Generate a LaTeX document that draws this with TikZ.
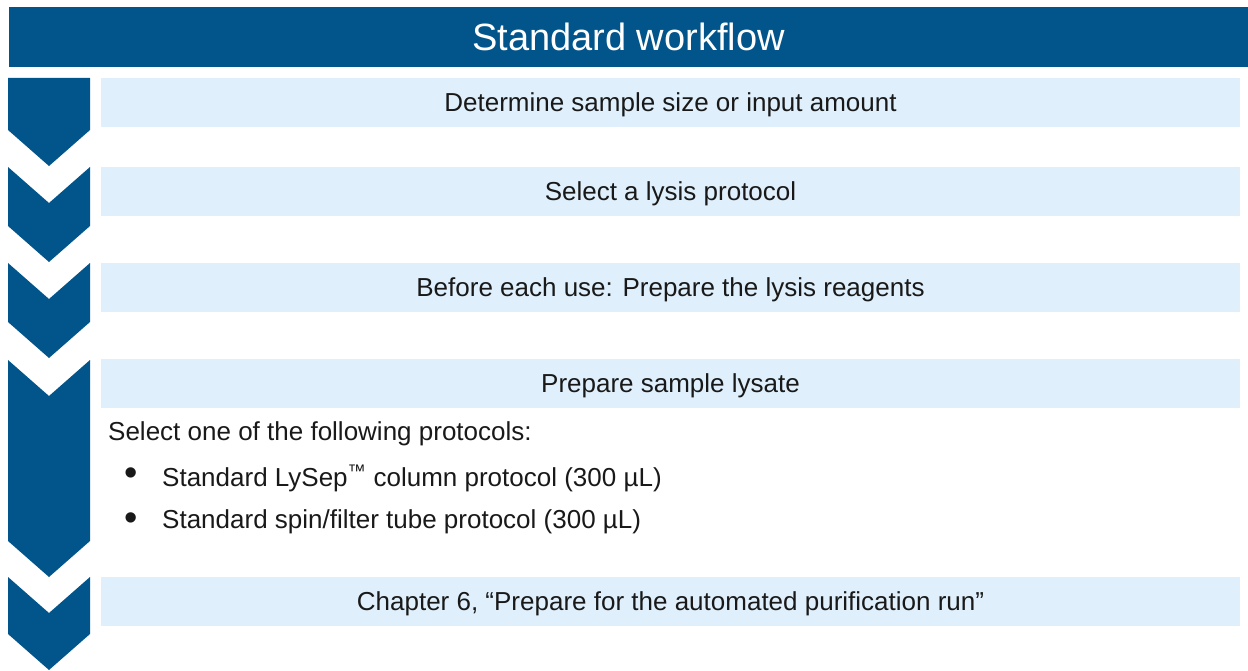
\documentclass[tikz,border=0pt]{standalone}
\usepackage{fontspec}
\setmainfont{Liberation Sans}
\usepackage{tikz}

\definecolor{wfblue}{RGB}{2,85,139}
\definecolor{wflight}{RGB}{223,240,252}
\definecolor{wftext}{RGB}{25,25,25}

\tikzset{
  stepbox/.style={fill=wflight, minimum width=1139pt, minimum height=49pt,
    inner sep=0pt, text height=20pt, text depth=2.4pt,
    text=wftext, font=\fontsize{26}{31}\selectfont},
  chev/.style={fill=wfblue},
  bodytext/.style={anchor=west, inner sep=0pt, text=wftext, font=\fontsize{26}{31}\selectfont},
  dot/.style={inner sep=0pt, text=wftext, font=\fontsize{38}{40}\selectfont},
}

\begin{document}
\begin{tikzpicture}[x=1pt,y=-1pt]
    \useasboundingbox (0,0) rectangle (1248,671);
    % title bar
    \node[fill=wfblue, minimum width=1239pt, minimum height=60pt, inner sep=0pt,
      text=white, font=\fontsize{38}{44}\selectfont] (head) at (628.5,37) {Standard workflow};
    % chevrons down the left side
    \fill[chev] (8,78) -- (90,78) -- (90,130) -- (49,166) -- (8,130) -- cycle;
    \foreach \yt/\yb in {167/262, 263/358, 360/577, 577/670}
      \fill[chev] (8,\yt) -- (49,\yt+36) -- (90,\yt) -- (90,\yb-36) -- (49,\yb) -- (8,\yb-36) -- cycle;
    % the steps
    \node[stepbox] (s1) at (670.5,102.5) {Determine sample size or input amount};
    \node[stepbox] (s2) at (670.5,191.5) {Select a lysis protocol};
    \node[stepbox] (s3) at (670.5,287.5) {Before each use: Prepare the lysis reagents};
    \node[stepbox] (s4) at (670.5,383.5) {Prepare sample lysate};
    \node[stepbox] (s5) at (670.5,601.5) {Chapter 6, “Prepare for the automated purification run”};
    % protocol choice under step 4
    \node[bodytext] (sel) at (108,434) {Select one of the following protocols:};
    \node[dot] (d1) at (131,477) {•};
    \node[bodytext] (o1) at (162,478) {Standard LySep\textsuperscript{™} column protocol (300 µL)};
    \node[dot] (d2) at (131,522) {•};
    \node[bodytext] (o2) at (162,522) {Standard spin/filter tube protocol (300 µL)};
\end{tikzpicture}
\end{document}
